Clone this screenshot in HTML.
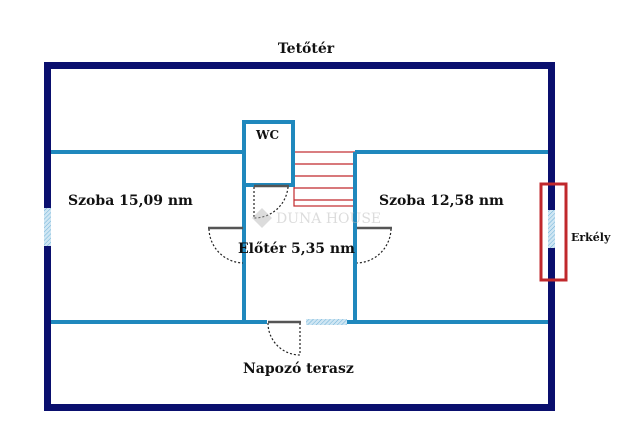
<!DOCTYPE html>
<html><head><style>
body{margin:0;background:#fff;}
svg text{font-family:"DejaVu Serif","Liberation Serif",serif;font-weight:bold;fill:#111;}
</style></head><body>
<svg width="640" height="440" viewBox="0 0 640 440" xmlns="http://www.w3.org/2000/svg">
<defs>
<pattern id="h" width="3" height="3" patternUnits="userSpaceOnUse" patternTransform="rotate(45)">
<rect width="3" height="3" fill="#cfe6f3"/><line x1="0" y1="0" x2="0" y2="3" stroke="#6fb2d8" stroke-width="1"/>
</pattern>
</defs>
<rect width="640" height="440" fill="#fff"/>
<text x="306" y="53" font-size="14" text-anchor="middle">Tetőtér</text>
<!-- outer -->
<rect x="47.5" y="65.5" width="504" height="342" fill="none" stroke="#0a0f6e" stroke-width="7"/>
<!-- windows in outer -->
<rect x="44" y="208" width="7" height="38" fill="url(#h)"/>
<rect x="548" y="210" width="7" height="38" fill="url(#h)"/>
<rect x="541" y="184" width="25" height="96" fill="none" stroke="#c0282c" stroke-width="3"/>
<text x="571" y="241" font-size="11">Erkély</text>
<!-- stairs -->
<g stroke="#c0282c" stroke-width="1.2" fill="none">
<rect x="294" y="152" width="61" height="54"/>
<line x1="294" y1="164" x2="355" y2="164"/>
<line x1="294" y1="176" x2="355" y2="176"/>
<line x1="294" y1="188" x2="355" y2="188"/>
<line x1="294" y1="200" x2="355" y2="200"/>
</g>
<!-- inner walls -->
<g stroke="#1f88bd" stroke-width="4" fill="none">
<line x1="51" y1="152" x2="244" y2="152"/>
<line x1="355" y1="152" x2="548" y2="152"/>
<line x1="51" y1="322" x2="267" y2="322"/>
<line x1="347" y1="322" x2="548" y2="322"/>
<line x1="244" y1="121" x2="244" y2="322"/>
<line x1="355" y1="152" x2="355" y2="322"/>
<rect x="244" y="122" width="49" height="63"/>
</g>
<rect x="306" y="319" width="41" height="6" fill="url(#h)"/>
<!-- doors -->
<g stroke="#555" stroke-width="2.5">
<line x1="208" y1="228" x2="243" y2="228"/>
<line x1="357" y1="228" x2="392" y2="228"/>
<line x1="254" y1="186" x2="289" y2="186"/>
<line x1="268" y1="322" x2="301" y2="322"/>
</g>
<g stroke="#222" stroke-width="1.2" fill="none" stroke-dasharray="2,2">
<path d="M209 229 A35 35 0 0 0 243 263"/>
<path d="M391 229 A35 35 0 0 1 357 263"/>
<path d="M254 187 L254 218"/><path d="M288 187 A34 34 0 0 1 254 218"/>
<path d="M300 323 L300 355"/><path d="M268 323 A32 32 0 0 0 300 355"/>
</g>
<!-- watermark -->
<g opacity="0.5">
<path d="M262 208 L272 218 L262 228 L252 218 Z" fill="#bbb"/>
<text x="276" y="223" font-size="14" style="fill:#bbb;font-weight:normal">DUNA HOUSE</text>
</g>
<text x="256" y="139" font-size="12">WC</text>
<text x="68" y="205" font-size="14">Szoba 15,09 nm</text>
<text x="379" y="205" font-size="14">Szoba 12,58 nm</text>
<text x="238" y="253" font-size="14">Előtér 5,35 nm</text>
<text x="243" y="373" font-size="14">Napozó terasz</text>
</svg>
</body></html>
